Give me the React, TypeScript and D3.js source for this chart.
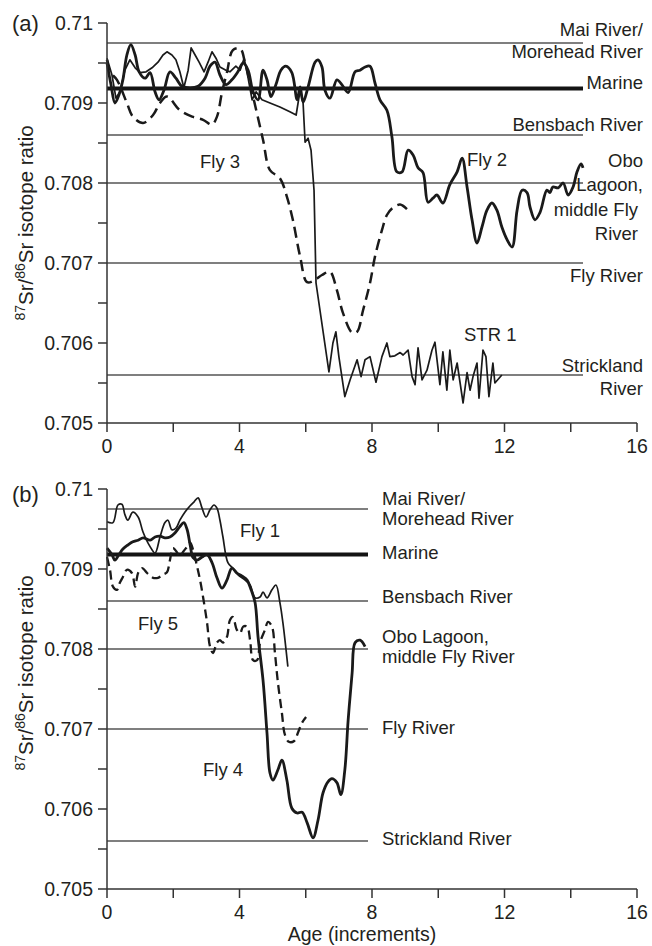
import React from "react";
import * as d3 from "d3";

// Axis ticks
const ageTicks = [0, 2, 4, 6, 8, 10, 12, 14, 16];
const ageTickLabels = ["0", "", "4", "", "8", "", "12", "", "16"];
const ratioTicks = [0.705, 0.7055, 0.706, 0.7065, 0.707, 0.7075, 0.708, 0.7085, 0.709, 0.7095, 0.71];
const ratioTickLabels = ["0.705", "", "0.706", "", "0.707", "", "0.708", "", "0.709", "", "0.71"];

// End-member 87Sr/86Sr values of the water sources
const sourceRatios = [0.70975, 0.70918, 0.7086, 0.708, 0.707, 0.7056];
const marineIndex = 1;

// Panel (a) otolith transects: [age increment, 87Sr/86Sr]
const fly2: [number, number][] = [
  [0, 0.7095], [0.12, 0.70923], [0.24, 0.709], [0.36, 0.7091], [0.48, 0.70929], [0.6, 0.7096],
  [0.72, 0.70973], [0.85, 0.7096], [0.97, 0.70939], [1.15, 0.70931], [1.3, 0.70938], [1.45, 0.70914],
  [1.57, 0.70904], [1.72, 0.70916], [1.9, 0.70939], [2.08, 0.70931], [2.26, 0.70921], [2.51, 0.70919],
  [2.75, 0.70921], [2.96, 0.70931], [3.11, 0.70946], [3.26, 0.70951], [3.41, 0.70935], [3.59, 0.70923],
  [3.77, 0.70929], [3.95, 0.70939], [4.11, 0.7095], [4.26, 0.70941], [4.41, 0.70914], [4.56, 0.70904],
  [4.71, 0.70941], [4.83, 0.70929], [4.95, 0.70908], [5.1, 0.70923], [5.25, 0.70941], [5.4, 0.70946],
  [5.58, 0.70938], [5.74, 0.70904], [5.83, 0.7092], [5.92, 0.70901], [6.07, 0.7092], [6.28, 0.70951],
  [6.37, 0.70954], [6.49, 0.70945], [6.58, 0.70916], [6.73, 0.70906], [6.94, 0.70929], [7.09, 0.70923],
  [7.28, 0.70913], [7.49, 0.70939], [7.64, 0.70941], [7.79, 0.70945], [7.94, 0.70946], [8.09, 0.70925],
  [8.24, 0.70904], [8.45, 0.70891], [8.6, 0.70858], [8.75, 0.70814], [8.91, 0.70814], [9.09, 0.70841],
  [9.24, 0.70835], [9.39, 0.70819], [9.54, 0.70813], [9.69, 0.70776], [9.84, 0.70781], [9.96, 0.70785],
  [10.14, 0.70775], [10.35, 0.70798], [10.57, 0.70814], [10.72, 0.70831], [10.87, 0.70795], [11.02, 0.70754],
  [11.17, 0.70725], [11.32, 0.70745], [11.47, 0.70766], [11.62, 0.70775], [11.77, 0.70766], [11.92, 0.70745],
  [12.08, 0.70729], [12.23, 0.7072], [12.38, 0.70766], [12.53, 0.70791], [12.68, 0.70788], [12.77, 0.7077],
  [12.92, 0.70754], [13.07, 0.70763], [13.28, 0.70791], [13.37, 0.70788], [13.46, 0.70795], [13.62, 0.70794],
  [13.77, 0.708], [13.92, 0.70785], [14.07, 0.70795], [14.19, 0.70814], [14.31, 0.70824], [14.37, 0.70819],
];

const fly3: [number, number][] = [
  [0, 0.70954], [0.09, 0.70939], [0.3, 0.70929], [0.6, 0.709], [0.78, 0.70883], [1.09, 0.70875],
  [1.39, 0.70885], [1.6, 0.709], [1.81, 0.70908], [2.2, 0.70891], [2.57, 0.70883], [2.9, 0.70879],
  [3.17, 0.70873], [3.32, 0.70883], [3.47, 0.70913], [3.62, 0.70938], [3.8, 0.70966], [4.02, 0.70968],
  [4.17, 0.7095], [4.41, 0.70908], [4.71, 0.70854], [4.92, 0.70816], [5.22, 0.70806], [5.43, 0.70783],
  [5.61, 0.70754], [5.83, 0.70708], [6.04, 0.70676], [6.28, 0.70679], [6.49, 0.70685], [6.73, 0.70689],
  [6.94, 0.70666], [7.12, 0.70638], [7.4, 0.70613], [7.55, 0.70614], [7.73, 0.70641], [7.94, 0.70675],
  [8.09, 0.70708], [8.3, 0.70741], [8.45, 0.7076], [8.63, 0.70769], [8.85, 0.70773], [9.09, 0.70766],
];

const str1: [number, number][] = [
  [0, 0.70956], [0.15, 0.70935], [0.27, 0.70906], [0.39, 0.70914], [0.54, 0.70941], [0.69, 0.70954],
  [0.85, 0.70944], [1.0, 0.70938], [1.18, 0.70939], [1.36, 0.70944], [1.54, 0.70951], [1.69, 0.7096],
  [1.81, 0.70964], [1.96, 0.7096], [2.08, 0.70954], [2.2, 0.70939], [2.32, 0.70919], [2.45, 0.70941],
  [2.54, 0.70969], [2.66, 0.7096], [2.78, 0.70951], [2.93, 0.70939], [3.05, 0.70951], [3.17, 0.70964],
  [3.29, 0.70956], [3.41, 0.70945], [3.59, 0.70941], [3.71, 0.70939], [3.89, 0.70946], [4.02, 0.70941],
  [4.14, 0.70956], [4.26, 0.70931], [4.38, 0.70904], [4.5, 0.70914], [4.68, 0.70904], [4.92, 0.709],
  [5.22, 0.70895], [5.52, 0.70889], [5.71, 0.70885], [5.83, 0.70916], [5.92, 0.709], [5.98, 0.70851],
  [6.07, 0.70856], [6.16, 0.70841], [6.25, 0.70791], [6.31, 0.70675], [6.7, 0.70564], [6.82, 0.706],
  [6.91, 0.70614], [7.0, 0.70583], [7.18, 0.70533], [7.34, 0.70554], [7.55, 0.70579], [7.67, 0.70558],
  [7.79, 0.70579], [7.94, 0.70583], [8.12, 0.70551], [8.3, 0.70583], [8.45, 0.706], [8.54, 0.70583],
  [8.69, 0.70584], [8.85, 0.70588], [8.94, 0.70585], [9.09, 0.70591], [9.21, 0.70558], [9.3, 0.70548],
  [9.39, 0.70594], [9.51, 0.70554], [9.66, 0.70566], [9.81, 0.70591], [9.9, 0.70601], [10.05, 0.70548],
  [10.14, 0.70589], [10.26, 0.70541], [10.35, 0.70591], [10.45, 0.70554], [10.57, 0.70575], [10.66, 0.7055],
  [10.75, 0.70525], [10.87, 0.70563], [10.96, 0.70541], [11.05, 0.70558], [11.17, 0.70575], [11.23, 0.70531],
  [11.35, 0.70591], [11.44, 0.70583], [11.53, 0.70533], [11.65, 0.70575], [11.71, 0.7055], [11.92, 0.7056],
];

// Panel (b) otolith transects
const fly1: [number, number][] = [
  [0, 0.70959], [0.18, 0.70958], [0.33, 0.7098], [0.45, 0.70981], [0.54, 0.70968], [0.63, 0.70961],
  [0.78, 0.70971], [0.94, 0.70965], [1.09, 0.70946], [1.3, 0.70928], [1.45, 0.7092], [1.6, 0.7094],
  [1.75, 0.70958], [1.84, 0.70961], [1.96, 0.70949], [2.08, 0.70951], [2.2, 0.70961], [2.35, 0.70971],
  [2.51, 0.70979], [2.63, 0.70984], [2.75, 0.70989], [2.87, 0.70976], [2.99, 0.70965], [3.11, 0.70974],
  [3.23, 0.7098], [3.32, 0.70976], [3.41, 0.70961], [3.5, 0.7094], [3.65, 0.70908], [3.8, 0.70901],
  [3.95, 0.70893], [4.17, 0.70886], [4.32, 0.7088], [4.47, 0.70864], [4.62, 0.70865], [4.71, 0.70871],
  [4.83, 0.70864], [4.98, 0.70874], [5.1, 0.7088], [5.22, 0.70858], [5.31, 0.70833], [5.46, 0.70778],
];

const fly4: [number, number][] = [
  [0, 0.70926], [0.15, 0.70918], [0.24, 0.70911], [0.36, 0.70918], [0.48, 0.70925], [0.63, 0.7093],
  [0.78, 0.70934], [0.94, 0.70936], [1.09, 0.70939], [1.3, 0.70936], [1.45, 0.7094], [1.6, 0.70941],
  [1.75, 0.70939], [1.9, 0.7094], [2.05, 0.70945], [2.2, 0.70953], [2.32, 0.70958], [2.42, 0.70949],
  [2.51, 0.7093], [2.6, 0.70914], [2.72, 0.70911], [2.87, 0.70915], [3.02, 0.70918], [3.17, 0.70908],
  [3.32, 0.70889], [3.47, 0.70876], [3.62, 0.70886], [3.77, 0.70901], [3.92, 0.70895], [4.08, 0.70891],
  [4.23, 0.70886], [4.35, 0.70874], [4.47, 0.70858], [4.56, 0.70815], [4.71, 0.70761], [4.83, 0.70695],
  [4.92, 0.70645], [5.01, 0.70636], [5.16, 0.70649], [5.28, 0.70661], [5.43, 0.70636], [5.58, 0.70601],
  [5.74, 0.70595], [5.89, 0.70596], [6.04, 0.70583], [6.22, 0.70564], [6.37, 0.70586], [6.52, 0.7062],
  [6.67, 0.70634], [6.79, 0.70638], [6.94, 0.70633], [7.06, 0.70618], [7.18, 0.70649], [7.28, 0.70711],
  [7.4, 0.7077], [7.49, 0.70808], [7.64, 0.70811], [7.79, 0.70803],
];

const fly5: [number, number][] = [
  [0, 0.70915], [0.09, 0.70899], [0.18, 0.70878], [0.3, 0.70874], [0.39, 0.70883], [0.48, 0.7089],
  [0.6, 0.70899], [0.75, 0.70895], [0.85, 0.70878], [0.94, 0.70895], [1.06, 0.70901], [1.21, 0.70895],
  [1.39, 0.70889], [1.54, 0.70889], [1.69, 0.70893], [1.81, 0.70896], [1.9, 0.70911], [1.99, 0.70926],
  [2.11, 0.70921], [2.2, 0.70915], [2.29, 0.70921], [2.42, 0.70928], [2.51, 0.70933], [2.6, 0.70924],
  [2.72, 0.70903], [2.81, 0.70886], [2.9, 0.70865], [3.02, 0.70833], [3.11, 0.70803], [3.2, 0.70795],
  [3.32, 0.70808], [3.41, 0.70811], [3.5, 0.70808], [3.62, 0.70815], [3.71, 0.70836], [3.8, 0.7084],
  [3.92, 0.70824], [4.02, 0.7082], [4.11, 0.70828], [4.23, 0.70828], [4.32, 0.70811], [4.41, 0.70786],
  [4.53, 0.70786], [4.62, 0.70808], [4.77, 0.70824], [4.86, 0.70834], [4.98, 0.70828], [5.07, 0.70795],
  [5.16, 0.70758], [5.28, 0.7072], [5.37, 0.70693], [5.49, 0.70684], [5.65, 0.70685], [5.77, 0.70696],
  [5.89, 0.70708], [6.01, 0.70715],
];

const FONT = "'Liberation Sans', Arial, Helvetica, sans-serif";
const INK = "#231f20";
const LINE = "#1a1a1a";

type Series = { data: [number, number][]; width: number; dash?: string; smooth: boolean };
type Label = { lines: string[]; x: number; y: number[]; anchor: "start" | "end" };

const x = d3.scaleLinear().domain([0, 16]).range([107, 637]);

function Panel({
  top,
  bottom,
  refEnd,
  series,
  labels,
  panelTag,
  tagY,
  titleY,
}: {
  top: number;
  bottom: number;
  refEnd: number;
  series: Series[];
  labels: Label[];
  panelTag: string;
  tagY: number;
  titleY: number;
}) {
  const y = d3.scaleLinear().domain([0.705, 0.71]).range([bottom, top]);
  const x0 = x(0);
  return (
    <g>
      {/* source reference levels */}
      {sourceRatios.map((v, i) => (
        <line
          key={"r" + i}
          x1={x0}
          x2={refEnd}
          y1={y(v)}
          y2={y(v)}
          stroke={i === marineIndex ? "#141414" : "#555"}
          strokeWidth={i === marineIndex ? 4 : 1.4}
        />
      ))}
      {/* transects */}
      {series.map((s, i) => {
        const gen = d3
          .line<[number, number]>()
          .x((d) => x(d[0]))
          .y((d) => y(d[1]))
          .curve(s.smooth ? d3.curveCatmullRom.alpha(0.5) : d3.curveLinear);
        return (
          <path
            key={"s" + i}
            d={gen(s.data) || ""}
            fill="none"
            stroke={LINE}
            strokeWidth={s.width}
            strokeDasharray={s.dash}
            strokeLinejoin="round"
          />
        );
      })}
      {/* axes */}
      <line x1={x0} x2={x0} y1={top} y2={bottom} stroke="#333" strokeWidth={1.5} />
      <line x1={x0} x2={x(16)} y1={bottom} y2={bottom} stroke="#333" strokeWidth={1.5} />
      {ratioTicks.map((v, i) => (
        <g key={"yt" + i}>
          <line x1={x0 - 9} x2={x0} y1={y(v)} y2={y(v)} stroke="#333" strokeWidth={1.5} />
          {ratioTickLabels[i] && (
            <text x={x0 - 14} y={y(v) + 7} textAnchor="end" fontSize={19.5} fill={INK}>
              {ratioTickLabels[i]}
            </text>
          )}
        </g>
      ))}
      {ageTicks.map((v, i) => (
        <g key={"xt" + i}>
          <line x1={x(v)} x2={x(v)} y1={bottom} y2={bottom + 9} stroke="#333" strokeWidth={1.5} />
          {ageTickLabels[i] && (
            <text x={x(v)} y={bottom + 30} textAnchor="middle" fontSize={19.5} fill={INK}>
              {ageTickLabels[i]}
            </text>
          )}
        </g>
      ))}
      {/* annotations */}
      {labels.map((l, i) => (
        <text key={"l" + i} textAnchor={l.anchor} fontSize={18.5} fill={INK}>
          {l.lines.map((t, j) => (
            <tspan key={j} x={l.x} y={l.y[j]}>
              {t}
            </tspan>
          ))}
        </text>
      ))}
      <text x={12} y={tagY} fontSize={22} fill={INK}>
        {panelTag}
      </text>
      <text transform={`translate(33,${titleY}) rotate(-90)`} textAnchor="middle" fontSize={20.5} fill={INK}>
        <tspan fontSize={14} dy={-8}>87</tspan>
        <tspan dy={8}>Sr/</tspan>
        <tspan fontSize={14} dy={-8}>86</tspan>
        <tspan dy={8}>Sr isotope ratio</tspan>
      </text>
    </g>
  );
}

export default function App() {
  const labelsA: Label[] = [
    { lines: ["Mai River/", "Morehead River"], x: 643, y: [36, 58], anchor: "end" },
    { lines: ["Marine"], x: 643, y: [89], anchor: "end" },
    { lines: ["Bensbach River"], x: 643, y: [131], anchor: "end" },
    { lines: ["Obo", "Lagoon,"], x: 643, y: [167, 191], anchor: "end" },
    { lines: ["middle Fly", "River"], x: 638, y: [216, 240], anchor: "end" },
    { lines: ["Fly River"], x: 643, y: [282], anchor: "end" },
    { lines: ["Strickland", "River"], x: 643, y: [372, 395], anchor: "end" },
    { lines: ["STR 1"], x: 464, y: [341], anchor: "start" },
    { lines: ["Fly 3"], x: 200, y: [168], anchor: "start" },
    { lines: ["Fly 2"], x: 467, y: [166], anchor: "start" },
  ];
  const labelsB: Label[] = [
    { lines: ["Mai River/", "Morehead River"], x: 382, y: [505, 525], anchor: "start" },
    { lines: ["Marine"], x: 382, y: [559], anchor: "start" },
    { lines: ["Bensbach River"], x: 382, y: [603], anchor: "start" },
    { lines: ["Obo Lagoon,", "middle Fly River"], x: 382, y: [643, 663], anchor: "start" },
    { lines: ["Fly River"], x: 382, y: [734], anchor: "start" },
    { lines: ["Strickland River"], x: 382, y: [845], anchor: "start" },
    { lines: ["Fly 1"], x: 240, y: [537], anchor: "start" },
    { lines: ["Fly 5"], x: 138, y: [630], anchor: "start" },
    { lines: ["Fly 4"], x: 203, y: [776], anchor: "start" },
  ];
  return (
    <svg
      width={652}
      height={946}
      style={{ position: "absolute", left: 0, top: 0, background: "#fff" }}
      fontFamily={FONT}
    >
      <rect width={652} height={946} fill="#fff" />
      <Panel
        top={23}
        bottom={423}
        refEnd={583}
        panelTag="(a)"
        tagY={31}
        titleY={223}
        labels={labelsA}
        series={[
          { data: fly3, width: 2.5, dash: "11,6", smooth: true },
          { data: str1, width: 1.7, smooth: false },
          { data: fly2, width: 2.8, smooth: true },
        ]}
      />
      <Panel
        top={489}
        bottom={889}
        refEnd={368}
        panelTag="(b)"
        tagY={502}
        titleY={673}
        labels={labelsB}
        series={[
          { data: fly5, width: 2.3, dash: "9,5", smooth: true },
          { data: fly1, width: 1.7, smooth: true },
          { data: fly4, width: 2.8, smooth: true },
        ]}
      />
      <text x={362} y={941} textAnchor="middle" fontSize={19.5} fill={INK}>
        Age (increments)
      </text>
    </svg>
  );
}
